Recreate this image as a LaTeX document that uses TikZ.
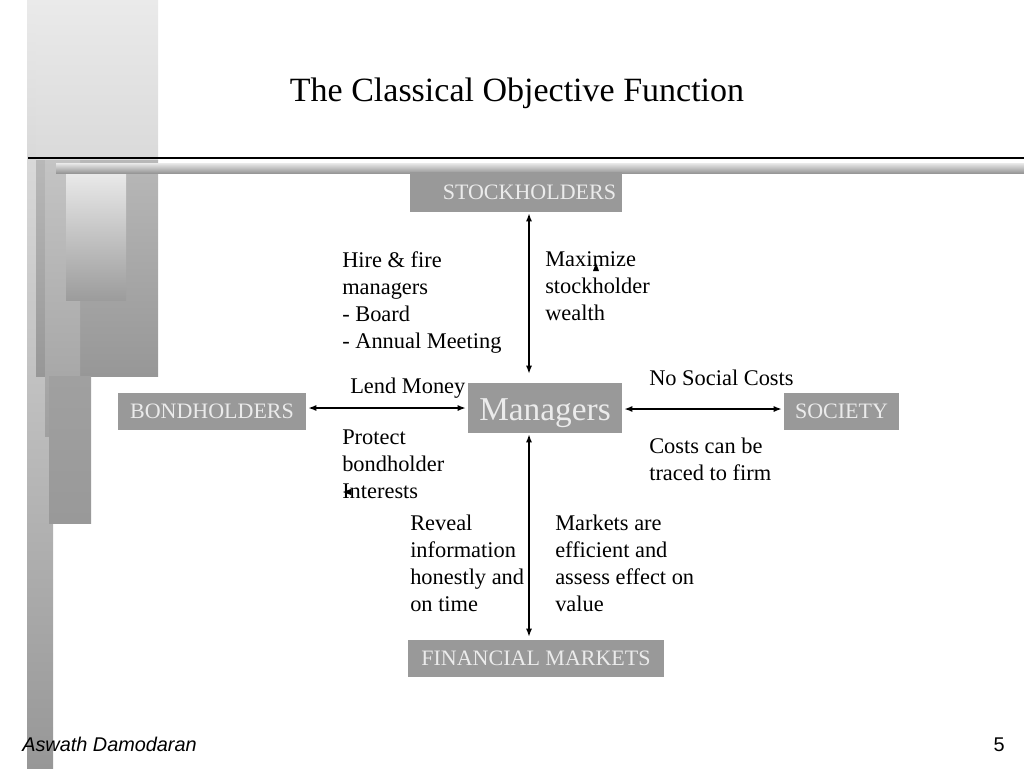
\documentclass[tikz,border=0pt]{standalone}
\usepackage{fontspec}
\setmainfont{Liberation Serif}
\newfontfamily\arialfont{Liberation Sans}
\usetikzlibrary{arrows.meta}
\definecolor{boxgray}{HTML}{999999}
\definecolor{boxtext}{HTML}{EBEBEB}
\definecolor{g1}{HTML}{EAEAEA}
\definecolor{g2}{HTML}{DADADA}
\definecolor{g3}{HTML}{B8B8B8}
\definecolor{g4}{HTML}{979797}
\definecolor{g5}{HTML}{C4C4C4}
\definecolor{g6}{HTML}{A0A0A0}
\definecolor{g7}{HTML}{9C9C9C}
\begin{document}
\begin{tikzpicture}[x=0.75pt,y=-0.75pt,
  box/.style={fill=boxgray, text=boxtext, inner sep=0pt, anchor=center,
    font=\fontsize{16.5}{19}\selectfont},
  lbl/.style={anchor=north west, inner sep=0pt, align=left,
    font=\fontsize{16.8}{20.25}\selectfont},
  dbl/.style={{Latex[length=6pt,width=4.5pt]}-{Latex[length=6pt,width=4.5pt]}, line width=1.1pt},
]
\useasboundingbox (0,0) rectangle (1024,768);

% decorative left columns
\shade[top color=g1, bottom color=g4] (27,0) rectangle (53,768);
\shade[top color=g1, bottom color=g2] (36,0) rectangle (158,160);
\shade[top color=g3, bottom color=g4] (36,160) rectangle (158,376);
\shade[top color=g5, bottom color=g6] (45,160) rectangle (80,436);
\shade[top color=g6, bottom color=boxgray] (49,376) rectangle (91,523);
\shade[top color=g1, bottom color=g7] (66,172) rectangle (126,300);
% header rule and bar
\draw[line width=1pt] (28,158) -- (1024,158);
\shade[top color=g1, bottom color=g4] (56,163) rectangle (1024,173);

% title
\node[anchor=base, inner sep=0pt, font=\fontsize{25.5}{30}\selectfont] (title) at (517,101) {The Classical Objective Function};

% boxes
\node[box, minimum width=159pt, minimum height=30pt, text width=150pt, align=right, inner xsep=4.5pt] (STK) at (516,192) {STOCKHOLDERS};
\node[box, minimum width=141pt, minimum height=27.75pt] (BOND) at (212,411.5) {BONDHOLDERS};
\node[box, minimum width=115.5pt, minimum height=37.5pt, text height=18.4pt, text depth=0pt, font=\fontsize{25}{28}\selectfont] (MGR) at (545,408) {Managers};
\node[box, minimum width=86.25pt, minimum height=27.75pt] (SOC) at (841.5,411.5) {SOCIETY};
\node[box, minimum width=192pt, minimum height=27.75pt] (FIN) at (536,658.5) {FINANCIAL MARKETS};

% connectors
\coordinate (vx) at (529,0);
\coordinate (hl) at (0,408);
\coordinate (hr) at (0,409);
\draw[dbl, shorten <=0.75pt, shorten >=6.75pt] (STK.south -| vx) -- (MGR.north -| vx);
\draw[dbl, shorten <=0.75pt, shorten >=2.25pt] (MGR.south -| vx) -- (FIN.north -| vx);
\draw[dbl, shorten <=1.5pt, shorten >=1.5pt] (BOND.east |- hl) -- (MGR.west |- hl);
\draw[dbl, shorten <=1.5pt, shorten >=1.5pt] (MGR.east |- hr) -- (SOC.west |- hr);

% labels
\node[lbl] (hire) at (342,251) {Hire \& fire\\managers\\- Board\\- Annual Meeting};
\node[lbl] (maxw) at (545,251) {Maximize\\stockholder\\wealth};
\node[lbl] (lend) at (350,378) {Lend Money};
\node[lbl] (prot) at (342,430) {Protect\\bondholder\\Interests};
\node[lbl] (nosc) at (649,370) {No Social Costs};
\node[lbl] (trace) at (649,438) {Costs can be\\traced to firm};
\node[lbl] (rev) at (410,515) {Reveal\\information\\honestly and\\on time};
\node[lbl] (mkt) at (555,515) {Markets are\\efficient and\\assess effect on\\value};

% stray arrowheads
\fill (596,263) -- (599,271) -- (593,271) -- cycle;
\fill (343,492) -- (351,489) -- (351,495) -- cycle;

% footer
\node[anchor=base west, inner sep=0pt, font=\arialfont\itshape\fontsize{14.9}{17}\selectfont] (author) at (22,751) {Aswath Damodaran};
\node[anchor=base east, inner sep=0pt, font=\arialfont\fontsize{14.9}{17}\selectfont] (page) at (1005,751) {5};
\end{tikzpicture}
\end{document}
